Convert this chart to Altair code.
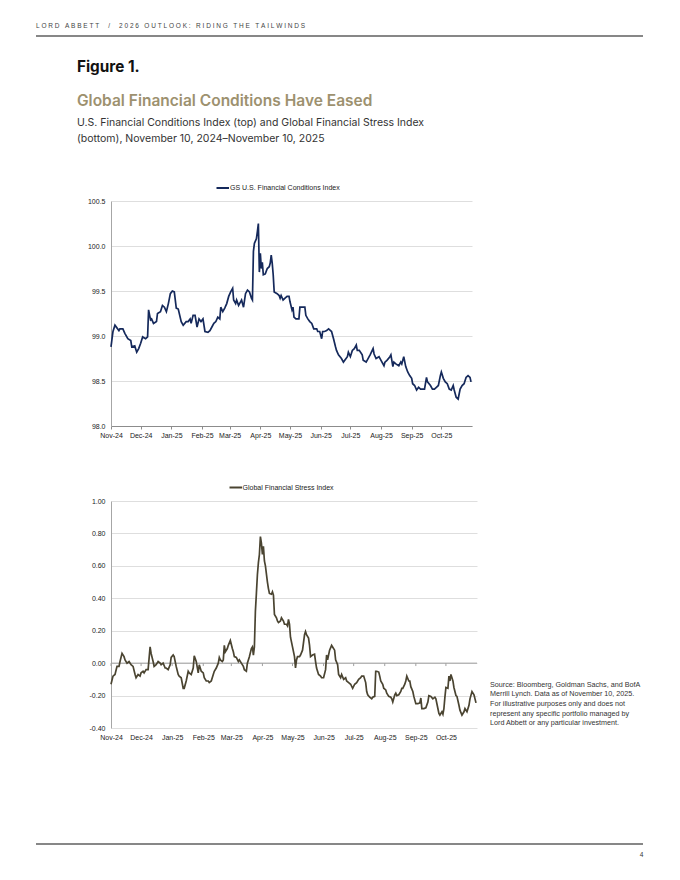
import altair as alt
import pandas as pd
from datetime import date, timedelta

START = date(2024, 11, 10)

# GS U.S. Financial Conditions Index: days since Nov 10, 2024 and values
fci_day = [
    0, 2, 4, 8, 9, 12, 14, 17, 20, 21,
    24, 26, 28, 30, 32, 35, 37, 38, 40, 41,
    43, 46, 47, 50, 52, 54, 56, 58, 60, 62,
    64, 66, 68, 71, 73, 76, 78, 80, 81, 83,
    85, 87, 89, 91, 93, 95, 98, 100, 102, 104,
    106, 108, 110, 111, 113, 115, 117, 119, 121, 123,
    124, 126, 127, 129, 131, 132, 134, 136, 138, 140,
    142, 143, 144, 145, 147, 148, 149, 150, 151, 152,
    153, 154, 156, 158, 160, 161, 162, 163, 164, 165,
    168, 170, 171, 172, 174, 176, 178, 180, 181, 183,
    184, 185, 187, 190, 191, 194, 196, 197, 199, 201,
    203, 205, 208, 209, 211, 213, 214, 216, 218, 220,
    222, 223, 225, 227, 228, 230, 233, 235, 239, 240,
    242, 244, 246, 248, 249, 251, 254, 255, 258, 261,
    262, 265, 266, 268, 271, 273, 276, 277, 279, 282,
    283, 285, 286, 288, 291, 293, 294, 296, 298, 300,
    302, 304, 305, 307, 309, 311, 313, 314, 317, 319,
    320, 323, 325, 327, 329, 331, 333, 334, 336, 338,
    340, 342, 344, 346, 347, 349, 351, 353, 355, 357,
    359, 361, 363, 364,
]
fci_val = [
    98.88, 99.05, 99.12, 99.06, 99.08, 99.08, 99.03, 98.97, 98.95, 98.88,
    98.89, 98.82, 98.86, 98.92, 98.99, 98.97, 98.99, 99.29, 99.18, 99.19,
    99.14, 99.16, 99.25, 99.27, 99.34, 99.32, 99.27, 99.36, 99.47, 99.50,
    99.49, 99.31, 99.30, 99.16, 99.12, 99.16, 99.16, 99.19, 99.14, 99.23,
    99.23, 99.10, 99.19, 99.16, 99.19, 99.05, 99.04, 99.06, 99.10, 99.14,
    99.16, 99.21, 99.19, 99.32, 99.27, 99.31, 99.36, 99.44, 99.49, 99.53,
    99.40, 99.36, 99.40, 99.34, 99.38, 99.40, 99.32, 99.47, 99.51, 99.49,
    99.42, 99.40, 99.94, 100.03, 100.08, 100.16, 100.25, 99.71, 99.92, 99.75,
    99.82, 99.68, 99.69, 99.75, 99.77, 99.81, 99.90, 99.81, 99.68, 99.49,
    99.47, 99.45, 99.42, 99.45, 99.40, 99.42, 99.44, 99.44, 99.38, 99.29,
    99.32, 99.21, 99.19, 99.19, 99.32, 99.32, 99.32, 99.23, 99.19, 99.16,
    99.14, 99.08, 99.08, 99.05, 99.05, 98.97, 99.05, 99.05, 99.06, 99.08,
    99.06, 99.05, 98.97, 98.88, 98.84, 98.79, 98.75, 98.71, 98.77, 98.82,
    98.77, 98.84, 98.86, 98.90, 98.84, 98.84, 98.79, 98.73, 98.71, 98.77,
    98.79, 98.86, 98.80, 98.75, 98.77, 98.73, 98.67, 98.71, 98.73, 98.77,
    98.79, 98.66, 98.71, 98.69, 98.67, 98.71, 98.69, 98.77, 98.66, 98.60,
    98.56, 98.53, 98.47, 98.45, 98.40, 98.43, 98.41, 98.41, 98.41, 98.54,
    98.49, 98.45, 98.41, 98.41, 98.43, 98.45, 98.56, 98.60, 98.53, 98.49,
    98.47, 98.41, 98.40, 98.45, 98.40, 98.32, 98.30, 98.41, 98.45, 98.47,
    98.54, 98.56, 98.54, 98.49,
]

# Global Financial Stress Index: days since Nov 10, 2024 and values
gfsi_day = [
    0, 2, 4, 6, 8, 9, 11, 13, 14, 16,
    18, 20, 22, 24, 25, 27, 29, 30, 32, 33,
    35, 37, 39, 40, 42, 43, 45, 47, 49, 50,
    52, 54, 55, 57, 59, 60, 62, 63, 65, 67,
    68, 70, 72, 73, 75, 77, 78, 80, 82, 83,
    85, 87, 88, 90, 92, 93, 95, 97, 98, 100,
    102, 103, 105, 107, 108, 109, 111, 112, 113, 114,
    116, 117, 119, 121, 122, 123, 125, 127, 128, 130,
    132, 133, 135, 136, 138, 140, 141, 142, 143, 144,
    145, 146, 147, 148, 149, 150, 151, 152, 153, 154,
    156, 157, 158, 160, 161, 162, 163, 165, 166, 167,
    169, 170, 172, 173, 175, 176, 177, 178, 179, 181,
    183, 184, 185, 186, 188, 189, 191, 193, 194, 195,
    197, 198, 199, 201, 203, 204, 205, 207, 209, 210,
    212, 214, 215, 216, 218, 220, 221, 223, 224, 226,
    227, 229, 230, 232, 234, 235, 237, 239, 241, 243,
    245, 247, 249, 250, 252, 254, 255, 256, 258, 260,
    261, 263, 264, 265, 267, 268, 269, 271, 272, 274,
    275, 277, 279, 280, 281, 283, 284, 285, 287, 289,
    290, 291, 293, 294, 295, 297, 298, 299, 301, 302,
    304, 306, 308, 309, 310, 312, 314, 316, 317, 319,
    321, 323, 324, 326, 327, 328, 330, 331, 332, 333,
    334, 336, 337, 338, 339, 341, 342, 344, 345, 347,
    348, 350, 352, 353, 355, 357, 358, 360, 362, 364,
]
gfsi_val = [
    -0.13, -0.08, -0.07, -0.02, -0.02, 0.01, 0.06, 0.04, 0.02, 0.00,
    0.01, -0.01, -0.02, -0.07, -0.09, -0.07, -0.08, -0.06, -0.05, -0.06,
    -0.04, -0.04, 0.10, 0.06, 0.01, -0.02, -0.01, 0.01, 0.00, -0.01,
    0.00, -0.03, -0.03, -0.04, -0.01, 0.035, 0.05, 0.04, -0.02, -0.07,
    -0.08, -0.09, -0.155, -0.155, -0.11, -0.05, -0.06, -0.07, -0.03, 0.045,
    0.01, -0.06, -0.01, -0.05, -0.06, -0.09, -0.11, -0.11, -0.12, -0.11,
    -0.07, -0.05, -0.03, 0.00, 0.035, 0.02, 0.01, 0.02, 0.11, 0.07,
    0.09, 0.11, 0.14, 0.09, 0.07, 0.04, 0.035, 0.01, 0.02, 0.00,
    -0.02, -0.04, -0.05, 0.00, 0.04, 0.09, 0.10, 0.05, 0.10, 0.32,
    0.43, 0.545, 0.62, 0.67, 0.78, 0.74, 0.67, 0.72, 0.63, 0.60,
    0.50, 0.46, 0.43, 0.425, 0.44, 0.42, 0.30, 0.28, 0.26, 0.25,
    0.26, 0.28, 0.26, 0.24, 0.24, 0.23, 0.27, 0.24, 0.16, 0.10,
    0.04, -0.03, 0.02, 0.04, 0.04, 0.05, 0.08, 0.175, 0.195, 0.175,
    0.155, 0.11, 0.04, 0.05, 0.055, 0.01, -0.03, -0.07, -0.08, -0.09,
    -0.09, -0.04, 0.05, 0.02, 0.08, 0.11, 0.10, 0.08, 0.02, -0.01,
    -0.07, -0.09, -0.07, -0.10, -0.09, -0.11, -0.12, -0.13, -0.155, -0.13,
    -0.12, -0.10, -0.09, -0.08, -0.08, -0.12, -0.175, -0.195, -0.21, -0.22,
    -0.21, -0.205, -0.05, -0.05, -0.055, -0.08, -0.11, -0.13, -0.155, -0.165,
    -0.185, -0.205, -0.21, -0.22, -0.24, -0.195, -0.185, -0.20, -0.195, -0.175,
    -0.155, -0.155, -0.13, -0.11, -0.08, -0.11, -0.11, -0.145, -0.175, -0.205,
    -0.25, -0.25, -0.245, -0.215, -0.28, -0.28, -0.275, -0.24, -0.20, -0.205,
    -0.22, -0.21, -0.22, -0.28, -0.31, -0.32, -0.30, -0.315, -0.28, -0.21,
    -0.15, -0.155, -0.08, -0.11, -0.07, -0.11, -0.15, -0.20, -0.205, -0.26,
    -0.29, -0.32, -0.30, -0.28, -0.30, -0.26, -0.22, -0.175, -0.195, -0.245,
]

# month tick positions (year, month); labels shown as "%b-%y"
tick_months = [(2024, 11), (2024, 12), (2025, 1), (2025, 2), (2025, 3), (2025, 4),
               (2025, 5), (2025, 6), (2025, 7), (2025, 8), (2025, 9), (2025, 10)]
fci_ticks = [98.0, 98.5, 99.0, 99.5, 100.0, 100.5]
gfsi_ticks = [-0.4, -0.2, 0.0, 0.2, 0.4, 0.6, 0.8, 1.0]

header_text = "LORD ABBETT  /  2026 OUTLOOK: RIDING THE TAILWINDS"
figure_label = "Figure 1."
title_text = "Global Financial Conditions Have Eased"
subtitle_lines = ["U.S. Financial Conditions Index (top) and Global Financial Stress Index",
                  "(bottom), November 10, 2024\u2013November 10, 2025"]
fci_name = "GS U.S. Financial Conditions Index"
gfsi_name = "Global Financial Stress Index"
source_lines = ["Source: Bloomberg, Goldman Sachs, and BofA",
                "Merrill Lynch. Data as of November 10, 2025.",
                "For illustrative purposes only and does not",
                "represent any specific portfolio managed by",
                "Lord Abbett or any particular investment."]
page_number = "4"

NAVY = "#15295b"
OLIVE = "#4a4431"
TAN = "#9d916f"
CHART_FONT = "Liberation Sans"


def iso(d):
    return (START + timedelta(days=d)).isoformat()


def spaced(s):
    out = []
    for ch in s:
        out.append("\u00a0" if ch == " " else ch)
    return "\u00a0".join(out)


fci = pd.DataFrame({"date": [iso(d) for d in fci_day], "value": fci_val})
gfsi = pd.DataFrame({"date": [iso(d) for d in gfsi_day], "value": gfsi_val})
ticks_df = pd.DataFrame({"date": [date(y, m, 10).isoformat() for y, m in tick_months],
                         "value": [0.0] * len(tick_months),
                         "value2": [-0.018] * len(tick_months)})
zero_df = pd.DataFrame({"value": [0.0]})
one = pd.DataFrame({"k": [0]})

xdomain = [alt.DateTime(year=2024, month=11, date=10, utc=True),
           alt.DateTime(year=2025, month=11, date=10, utc=True)]
xvalues = [alt.DateTime(year=y, month=m, date=10, utc=True) for y, m in tick_months]
month_label = "utcFormat(datum.value, '%b-%y')"


def txt(s, x, y, size, color="#222", font=CHART_FONT, weight="normal",
        align="left", baseline="alphabetic", lh=None):
    kw = dict(align=align, baseline=baseline, fontSize=size, font=font,
              fontWeight=weight, color=color)
    if lh:
        kw["lineHeight"] = lh
    return alt.Chart(one).mark_text(**kw).encode(
        x=alt.value(x), y=alt.value(y), text=alt.value(s))


def hrule(x1, x2, y, color, w):
    return alt.Chart(one).mark_rule(color=color, strokeWidth=w).encode(
        x=alt.value(x1), x2=alt.value(x2), y=alt.value(y))


# ---------- top panel (plot origin at page 111, 201) ----------
TW, TH = 361, 225
ox, oy = 111, 201

top_x = alt.X("date:T", scale=alt.Scale(type="utc", domain=xdomain),
              axis=alt.Axis(values=xvalues, labelExpr=month_label,
                            labelFontSize=7, labelColor="#222", labelFont=CHART_FONT,
                            domainColor="#8c8c8c", tickColor="#8c8c8c", tickSize=3,
                            labelPadding=2, grid=False, title=None,
                            labelOverlap=False, labelFlush=False))
top_y = alt.Y("value:Q", scale=alt.Scale(domain=[98.0, 100.5], nice=False, zero=False),
              axis=alt.Axis(values=fci_ticks, format=".1f", grid=True, gridColor="#dedede",
                            domainColor="#a6a6a6", ticks=False, labelPadding=6,
                            labelFontSize=7, labelColor="#222", labelFont=CHART_FONT,
                            labelOverlap=False, title=None))

top_line = alt.Chart(fci).mark_line(color=NAVY, strokeWidth=1.7).encode(x=top_x, y=top_y)

top = alt.layer(
    alt.Chart(one).mark_rect(color="white").encode(
        x=alt.value(8 - ox), x2=alt.value(9 - ox), y=alt.value(8 - oy), y2=alt.value(9 - oy)),
    top_line,
    txt(spaced(header_text), 36 - ox, 28 - oy, 6.5, color="#444"),
    hrule(36 - ox, 643 - ox, 36 - oy, "#111", 1.2),
    txt(figure_label, 77 - ox, 72 - oy, 15.3, color="#111", font="Inter", weight="bold"),
    txt(title_text, 77 - ox, 105.5 - oy, 15.5, color=TAN, font="Inter", weight=600),
    txt(subtitle_lines, 77 - ox, 125.5 - oy, 10.5, color="#333", font="Inter", lh=16.5),
    hrule(216.5 - ox, 229 - ox, 188 - oy, NAVY, 2),
    txt(fci_name, 230 - ox, 188 - oy, 7, color="#222", baseline="middle"),
).properties(width=TW, height=TH)

# ---------- bottom panel (plot origin at page 111, 501) ----------
BW, BH = 366, 227
bx, by = 111, 501

bot_x = alt.X("date:T", scale=alt.Scale(type="utc", domain=xdomain),
              axis=alt.Axis(values=xvalues, labelExpr=month_label,
                            labelFontSize=7, labelColor="#222", labelFont=CHART_FONT,
                            domain=False, ticks=False, labelPadding=5, grid=False,
                            title=None, labelOverlap=False, labelFlush=False))
bot_y = alt.Y("value:Q", scale=alt.Scale(domain=[-0.4, 1.0], nice=False, zero=False),
              axis=alt.Axis(values=gfsi_ticks, grid=True, gridColor="#dedede",
                            labelExpr="replace(format(datum.value, '.2f'), '\u2212', '-')",
                            domainColor="#a6a6a6", ticks=False, labelPadding=6,
                            labelFontSize=7, labelColor="#222", labelFont=CHART_FONT,
                            labelOverlap=False, title=None))

zero_line = alt.Chart(zero_df).mark_rule(color="#a0a0a0", strokeWidth=1).encode(y=bot_y)
zero_ticks = alt.Chart(ticks_df).mark_rule(color="#a0a0a0", strokeWidth=1).encode(
    x=bot_x, y=bot_y, y2="value2:Q")
bot_line = alt.Chart(gfsi).mark_line(color=OLIVE, strokeWidth=1.7).encode(x=bot_x, y=bot_y)

bottom = alt.layer(
    zero_line,
    zero_ticks,
    bot_line,
    hrule(229.5 - bx, 242 - bx, 487.5 - by, OLIVE, 2),
    txt(gfsi_name, 242.5 - bx, 487.5 - by, 7, color="#222", baseline="middle"),
    txt(source_lines, 490 - bx, 686.5 - by, 7.2, color="#333",
        font="Liberation Sans Narrow, Arial Narrow, Liberation Sans", lh=9.7),
    hrule(36 - bx, 643 - bx, 844 - by, "#111", 1.2),
    txt(page_number, 641.5 - bx, 856.5 - by, 6.5, color="#333", align="center"),
).properties(width=BW, height=BH)

chart = alt.vconcat(top, bottom, spacing=45).properties(
    padding=0, background="white"
).configure_view(stroke=None)

chart.save("out.html", embed_options={"renderer": "svg", "actions": False})
